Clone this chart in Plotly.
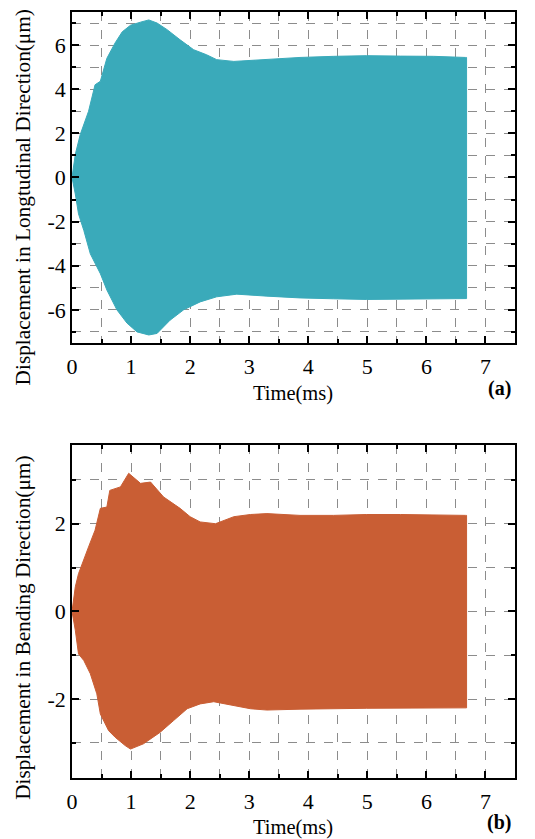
import plotly.graph_objects as go
from plotly.subplots import make_subplots

# (a) longitudinal displacement envelope
t_a = [0, 0.056, 0.14, 0.28, 0.39, 0.48, 0.59, 0.73, 0.85, 0.99, 1.16, 1.30, 1.44, 1.61, 1.83,
       2.06, 2.28, 2.45, 2.74, 3.02, 3.30, 3.86, 4.43, 4.99, 5.56, 6.12, 6.66, 6.68]
upper_a = [0, 1.05, 1.95, 3.0, 4.2, 4.36, 5.4, 6.1, 6.6, 6.9, 7.04, 7.14, 7.0, 6.7, 6.24,
           5.79, 5.56, 5.34, 5.26, 5.3, 5.37, 5.44, 5.49, 5.52, 5.5, 5.49, 5.44, 5.44]
tl_a = [0, 0.056, 0.11, 0.20, 0.31, 0.48, 0.59, 0.76, 0.93, 1.10, 1.30, 1.44, 1.66, 1.89,
        2.17, 2.45, 2.79, 3.30, 3.86, 4.43, 4.99, 5.56, 6.12, 6.68]
lower_a = [0, -0.75, -1.65, -2.4, -3.46, -4.36, -5.1, -6.0, -6.6, -7.0, -7.14, -7.07, -6.47, -6.0,
           -5.64, -5.41, -5.29, -5.38, -5.46, -5.5, -5.53, -5.52, -5.5, -5.49]

# (b) bending displacement envelope
t_b = [0, 0.056, 0.11, 0.19, 0.28, 0.39, 0.48, 0.59, 0.64, 0.82, 0.96, 1.16, 1.33, 1.55, 1.83,
       2.0, 2.17, 2.43, 2.74, 3.02, 3.30, 3.86, 4.43, 4.99, 5.56, 6.66, 6.68]
upper_b = [0, 0.56, 0.86, 1.17, 1.47, 1.85, 2.35, 2.38, 2.76, 2.84, 3.15, 2.92, 2.95, 2.61, 2.35,
           2.16, 2.04, 2.0, 2.16, 2.21, 2.23, 2.19, 2.19, 2.21, 2.21, 2.19, 2.19]
tl_b = [0, 0.056, 0.11, 0.20, 0.31, 0.42, 0.48, 0.62, 0.73, 0.90, 0.99, 1.21, 1.49, 1.72, 1.95,
        2.17, 2.40, 2.74, 3.02, 3.30, 3.86, 4.99, 6.12, 6.68]
lower_b = [0, -0.43, -0.97, -1.12, -1.42, -1.88, -2.34, -2.72, -2.87, -3.06, -3.14, -3.02, -2.76,
           -2.49, -2.22, -2.11, -2.06, -2.15, -2.22, -2.25, -2.23, -2.21, -2.2, -2.2]

# tick labels
x_ticks = [0, 1, 2, 3, 4, 5, 6, 7]
x_ticktext = ["0", "1", "2", "3", "4", "5", "6", "7"]
ya_ticks = [-6, -4, -2, 0, 2, 4, 6]
ya_ticktext = ["-6", "-4", "-2", "0", "2", "4", "6"]
yb_ticks = [-2, 0, 2]
yb_ticktext = ["-2", "0", "2"]

color_a = "rgb(58,170,186)"
color_b = "rgb(201,94,52)"
FONT = "Liberation Serif"
FS = 22

fig = make_subplots(rows=2, cols=1, vertical_spacing=0.13)

def add_env(t_up, up, t_lo, lo, color, row):
    xs = list(t_up) + list(reversed(t_lo))
    ys = list(up) + list(reversed(lo))
    fig.add_trace(go.Scatter(x=xs, y=ys, mode="lines", fill="toself", fillcolor=color,
                             line=dict(color=color, width=1), showlegend=False,
                             hoverinfo="skip"), row=row, col=1)

add_env(t_a, upper_a, tl_a, lower_a, color_a, 1)
add_env(t_b, upper_b, tl_b, lower_b, color_b, 2)

grid = dict(gridcolor="rgb(140,140,140)", griddash="dash", gridwidth=1)
common = dict(showline=True, linecolor="black", linewidth=1.5, mirror="allticks",
              ticks="inside", ticklen=7, tickwidth=1.5, tickcolor="black",
              showgrid=True, zeroline=False, automargin=False,
              tickfont=dict(family=FONT, size=FS, color="black"), **grid)

xax = dict(common, range=[0, 7.5], tickmode="array", tickvals=x_ticks, ticktext=x_ticktext,
           ticklabelstandoff=3,
           minor=dict(dtick=0.5, tick0=0, ticks="inside", ticklen=4, tickcolor="black",
                      showgrid=True, **grid))

fig.update_xaxes(xax, row=1, col=1)
fig.update_xaxes(xax, row=2, col=1)

fig.update_yaxes(dict(common, range=[-7.5, 7.5], tickmode="array", tickvals=ya_ticks,
                      ticktext=ya_ticktext,
                      minor=dict(dtick=1, tick0=0, ticks="inside", ticklen=4, tickcolor="black",
                                 showgrid=True, **grid)),
                 row=1, col=1)
fig.update_yaxes(dict(common, range=[-3.8, 3.8], tickmode="array", tickvals=yb_ticks,
                      ticktext=yb_ticktext,
                      minor=dict(dtick=1, tick0=0, ticks="inside", ticklen=4, tickcolor="black",
                                 showgrid=True, **grid)),
                 row=2, col=1)

fig.update_layout(
    width=527, height=831,
    margin=dict(l=64, r=20, t=4, b=61),
    plot_bgcolor="white", paper_bgcolor="white",
    font=dict(family=FONT, color="black"),
    yaxis=dict(domain=[0.568, 1.0]),
    yaxis2=dict(domain=[0.0, 0.435]),
)

tf = dict(family=FONT, size=21.3, color="black")
# axis titles
fig.add_annotation(text="Displacement in Longtudinal Direction(μm)", xref="paper", yref="paper",
                   x=-0.1106, y=0.758, textangle=-90, showarrow=False,
                   xanchor="center", yanchor="middle", font=tf)
fig.add_annotation(text="Displacement in Bending Direction(μm)", xref="paper", yref="paper",
                   x=-0.1106, y=0.196, textangle=-90, showarrow=False,
                   xanchor="center", yanchor="middle", font=tf)
fig.add_annotation(text="Time(ms)", xref="paper", yref="paper", x=0.499, y=0.502,
                   showarrow=False, xanchor="center", yanchor="middle",
                   font=dict(family=FONT, size=20.5, color="black"))
fig.add_annotation(text="Time(ms)", xref="paper", yref="paper", x=0.499, y=-0.0645,
                   showarrow=False, xanchor="center", yanchor="middle",
                   font=dict(family=FONT, size=20.5, color="black"))

fig.add_annotation(text="<b>(a)</b>", xref="paper", yref="paper", x=0.995, y=0.509,
                   showarrow=False, xanchor="right", yanchor="middle",
                   font=dict(family=FONT, size=20, color="black"))
fig.add_annotation(text="<b>(b)</b>", xref="paper", yref="paper", x=0.995, y=-0.0587,
                   showarrow=False, xanchor="right", yanchor="middle",
                   font=dict(family=FONT, size=20, color="black"))

fig.write_html("out.html")
